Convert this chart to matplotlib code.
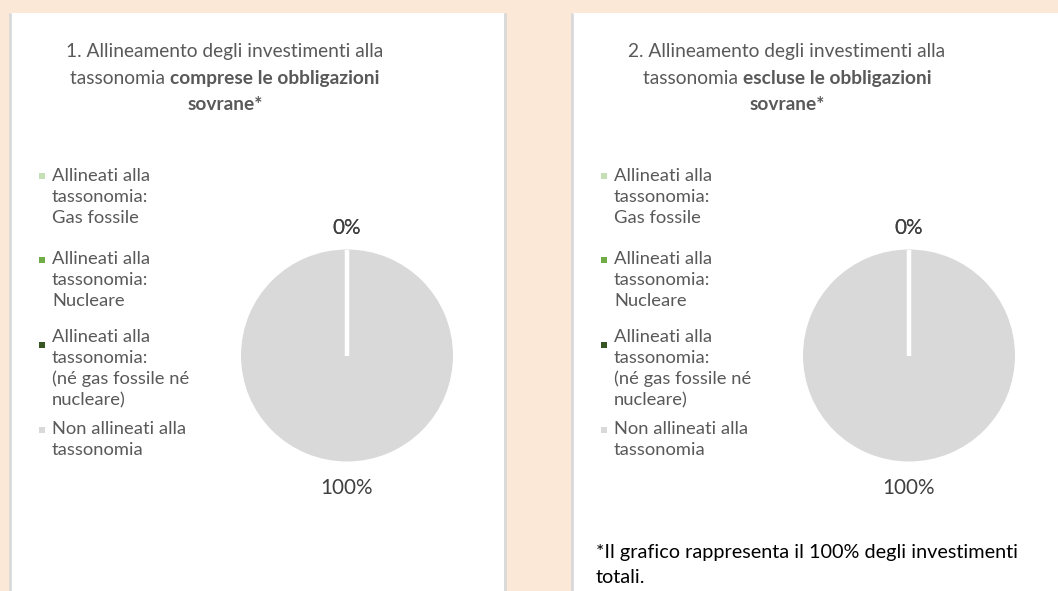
import matplotlib
matplotlib.use('Agg')
import matplotlib.pyplot as plt
from matplotlib.patches import Rectangle
import numpy as np

plt.rcParams['font.family'] = ['Lato', 'DejaVu Sans']

# categorie del grafico e colori delle fette
categorie = [
    ['Allineati alla', 'tassonomia:', 'Gas fossile'],
    ['Allineati alla', 'tassonomia:', 'Nucleare'],
    ['Allineati alla', 'tassonomia:', '(né gas fossile né', 'nucleare)'],
    ['Non allineati alla', 'tassonomia'],
]
colori = ['#C5E0B4', '#70AD47', '#375623', '#D9D9D9']

# quote percentuali per i due grafici
comprese = [0, 0, 0, 100]
escluse = [0, 0, 0, 100]

titoli = [
    ('1. Allineamento degli investimenti alla', 'tassonomia ', 'comprese le obbligazioni', 'sovrane*'),
    ('2. Allineamento degli investimenti alla', 'tassonomia ', 'escluse le obbligazioni', 'sovrane*'),
]
nota = ['*Il grafico rappresenta il 100% degli investimenti', 'totali.']

W, H = 1058, 591
fig = plt.figure(figsize=(W / 100, H / 100), dpi=100, facecolor='#FCE8D6')
bg = fig.add_axes([0, 0, 1, 1])
bg.set_xlim(0, W)
bg.set_ylim(H, 0)
bg.axis('off')

grigio = '#595959'
fs_titolo = 13.8
fs_legenda = 13.2
renderer = fig.canvas.get_renderer()


def pannello(x0, x1, valori, titolo):
    bg.add_patch(Rectangle((x0, 13), x1 - x0, H - 13, facecolor='white', edgecolor='none'))
    bg.vlines([x0 - 1, x1 + 1], 13, H, colors='#D9D9D9', lw=2)

    # titolo su tre righe, con la parte centrale in grassetto
    cx = x0 + 214
    bg.text(cx, 57, titolo[0], ha='center', va='baseline', fontsize=fs_titolo, color=grigio)
    t1 = bg.text(0, 84, titolo[1], ha='left', va='baseline', fontsize=fs_titolo, color=grigio)
    t2 = bg.text(0, 84, titolo[2], ha='left', va='baseline', fontsize=fs_titolo,
                 color=grigio, fontweight='bold')
    w1 = t1.get_window_extent(renderer).width
    w2 = t2.get_window_extent(renderer).width
    start = cx - (w1 + w2) / 2
    t1.set_x(start)
    t2.set_x(start + w1)
    bg.text(cx, 110, titolo[3], ha='center', va='baseline', fontsize=fs_titolo,
            color=grigio, fontweight='bold')

    # legenda
    basi = [181, 264, 342, 434]
    marcatori = [176, 260, 345, 430]
    for righe, col, yb, ym in zip(categorie, colori, basi, marcatori):
        bg.scatter([x0 + 30.5], [ym], marker='s', s=20, color=col, linewidths=0)
        for k, riga in enumerate(righe):
            bg.text(x0 + 41, yb + 21 * k, riga, ha='left', va='baseline',
                    fontsize=fs_legenda, color=grigio)

    # torta
    cxp, cyp, r = x0 + 336, 355.5, 106
    lato = 2.5 * r
    ax = fig.add_axes([(cxp - lato / 2) / W, (H - cyp - lato / 2) / H, lato / W, lato / H])
    wedges, _ = ax.pie(valori, colors=colori, startangle=90, counterclock=False,
                       wedgeprops=dict(edgecolor='none'))
    ax.set_xlim(-1.25, 1.25)
    ax.set_ylim(-1.25, 1.25)

    # bordi bianchi tra le fette
    for w in wedges:
        a = np.deg2rad(w.theta1)
        ax.plot([0, np.cos(a)], [0, np.sin(a)], color='white', lw=3,
                solid_capstyle='butt', zorder=3)

    # etichette percentuali, una sola per posizione
    fatti = set()
    for w, v in zip(wedges, valori):
        ang = np.deg2rad((w.theta1 + w.theta2) / 2)
        d = 1.2 if np.sin(ang) > 0 else 1.25
        pos = (round(d * np.cos(ang), 3), round(d * np.sin(ang), 3))
        if pos in fatti:
            continue
        fatti.add(pos)
        ax.text(pos[0], pos[1], f'{v:.0f}%', ha='center', va='center',
                fontsize=14.9, color='#404040')


pannello(11, 504, comprese, titoli[0])
pannello(573, W + 5, escluse, titoli[1])

for k, riga in enumerate(nota):
    bg.text(596, 558 + 25 * k, riga, ha='left', va='baseline', fontsize=14.3, color='#000000')

fig.savefig('out.png', dpi=100, facecolor=fig.get_facecolor())
